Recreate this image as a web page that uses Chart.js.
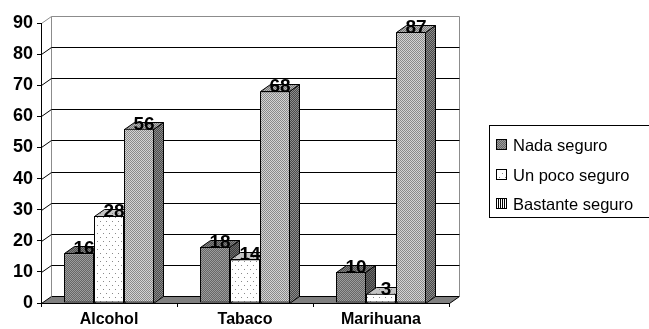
<!DOCTYPE html>
<html>
<head>
<meta charset="utf-8">
<script src="https://cdn.jsdelivr.net/npm/chart.js@4/dist/chart.umd.min.js"></script>
<style>
  html, body { margin: 0; padding: 0; background: #fff; }
  #wrap { width: 649px; height: 329px; position: relative; overflow: hidden; }
</style>
</head>
<body>
<div id="wrap"><canvas id="c" width="649" height="329"></canvas></div>
<script>
// ---- data ----
const categories = ['Alcohol', 'Tabaco', 'Marihuana'];
const seriesNames = ['Nada seguro', 'Un poco seguro', 'Bastante seguro'];
const nadaSeguro = [16, 18, 10];
const unPocoSeguro = [28, 14, 3];
const bastanteSeguro = [56, 68, 87];
const yMin = 0, yMax = 90, yStep = 10;

// ---- fill textures ----
function makePattern(w, h, paint) {
  const c = document.createElement('canvas');
  c.width = w; c.height = h;
  const g = c.getContext('2d');
  paint(g);
  return g.createPattern(c, 'repeat');
}
function checker(a, b) {
  return makePattern(2, 2, g => {
    g.fillStyle = a; g.fillRect(0, 0, 2, 2);
    g.fillStyle = b; g.fillRect(0, 0, 1, 1); g.fillRect(1, 1, 1, 1);
  });
}
function dots(bg, dot) {
  return makePattern(6, 8, g => {
    g.fillStyle = bg; g.fillRect(0, 0, 6, 8);
    g.fillStyle = dot; g.fillRect(1, 1, 1, 1); g.fillRect(4, 5, 1, 1);
  });
}
const stripes = makePattern(2, 2, g => {
  g.fillStyle = '#fff'; g.fillRect(0, 0, 2, 2);
  g.fillStyle = '#000'; g.fillRect(0, 0, 1, 2);
});

// front / side / top faces per series
const faces = [
  { front: checker('#666666', '#9c9c9c'), side: checker('#3c3c3c', '#6a6a6a'), top: checker('#505050', '#808080'), key: checker('#666666', '#9c9c9c') },
  { front: dots('#ffffff', '#8a8a8a'),    side: checker('#8c8c8c', '#b0b0b0'), top: dots('#c4c4c4', '#8a8a8a'),     key: dots('#ffffff', '#8a8a8a') },
  { front: checker('#d4d4d4', '#8a8a8a'), side: checker('#4a4a4a', '#8c8c8c'), top: checker('#7a7a7a', '#b4b4b4'), key: stripes }
];

const DX = 10, DY = -7;   // depth offset of the 3‑D box
const FONT = "'Liberation Sans', Arial, sans-serif";

function poly(ctx, pts, fill) {
  ctx.beginPath();
  ctx.moveTo(pts[0][0], pts[0][1]);
  for (let i = 1; i < pts.length; i++) ctx.lineTo(pts[i][0], pts[i][1]);
  ctx.closePath();
  ctx.fillStyle = fill;
  ctx.fill();
  ctx.stroke();
}

// back wall, side wall, floor and gridlines
const wallPlugin = {
  id: 'wall3d',
  beforeDraw(chart) {
    const { ctx, chartArea: a, scales: { y } } = chart;
    const L = Math.round(a.left) + 0.5, R = Math.round(a.right) + 0.5;
    const yb = Math.round(y.getPixelForValue(y.min)) + 0.5;
    const yt = Math.round(y.getPixelForValue(y.max)) + 0.5;
    ctx.save();
    ctx.lineWidth = 1;
    // floor
    ctx.strokeStyle = '#000';
    poly(ctx, [[L, yb], [R, yb], [R + DX, yb + DY], [L + DX, yb + DY]], '#808080');
    // wall outline
    ctx.strokeStyle = '#8c8c8c';
    ctx.beginPath();
    ctx.moveTo(L + DX, yb + DY); ctx.lineTo(L + DX, yt + DY);
    ctx.lineTo(R + DX, yt + DY); ctx.lineTo(R + DX, yb + DY);
    ctx.moveTo(L, yt); ctx.lineTo(L + DX, yt + DY);
    ctx.stroke();
    // gridlines
    ctx.strokeStyle = '#000';
    ctx.beginPath();
    y.ticks.forEach(t => {
      if (t.value <= y.min || t.value >= y.max) return;
      const py = Math.round(y.getPixelForValue(t.value)) + 0.5;
      ctx.moveTo(L, py); ctx.lineTo(L + DX, py + DY); ctx.lineTo(R + DX, py + DY);
    });
    ctx.stroke();
    ctx.restore();
  },
  beforeDatasetsDraw(chart) {
    const ctx = chart.ctx;
    ctx.save();
    ctx.lineWidth = 1;
    ctx.strokeStyle = '#000';
    chart.data.datasets.forEach((ds, i) => {
      const meta = chart.getDatasetMeta(i);
      meta.data.forEach(bar => {
        const p = bar.getProps(['x', 'y', 'base', 'width'], true);
        const l = Math.round(p.x - p.width / 2) + 0.5, r = Math.round(p.x + p.width / 2) - 0.5;
        const t = Math.round(p.y) + 0.5, b = Math.round(p.base) + 0.5;
        poly(ctx, [[r, t], [r + DX, t + DY], [r + DX, b + DY], [r, b]], faces[i].side);
        poly(ctx, [[l, t], [l + DX, t + DY], [r + DX, t + DY], [r, t]], faces[i].top);
      });
    });
    ctx.restore();
  },
  afterDatasetsDraw(chart) {
    const ctx = chart.ctx;
    ctx.save();
    ctx.font = 'bold 19px ' + FONT;
    ctx.textAlign = 'center';
    ctx.textBaseline = 'alphabetic';
    ctx.fillStyle = '#000';
    chart.data.datasets.forEach((ds, i) => {
      chart.getDatasetMeta(i).data.forEach((bar, j) => {
        const p = bar.getProps(['x', 'y'], true);
        ctx.fillText(String(ds.data[j]), p.x + DX / 2, p.y + 1);
      });
    });
    ctx.restore();
  },
  afterDraw(chart) {
    const ctx = chart.ctx;
    ctx.save();
    ctx.lineWidth = 1;
    ctx.strokeStyle = '#000';
    ctx.fillStyle = '#fff';
    ctx.fillRect(489.5, 125.5, 200, 92);
    ctx.strokeRect(489.5, 125.5, 200, 92);
    const rows = [145, 175, 204];
    ctx.font = '16.5px ' + FONT;
    ctx.textBaseline = 'middle';
    chart.data.datasets.forEach((ds, i) => {
      const cy = rows[i];
      ctx.fillStyle = faces[i].key;
      ctx.fillRect(496.5, cy - 5.5, 10, 10);
      ctx.strokeRect(496.5, cy - 5.5, 10, 10);
      ctx.fillStyle = '#000';
      ctx.fillText(ds.label, 513, cy + 1);
    });
    ctx.restore();
  }
};

const seriesValues = [nadaSeguro, unPocoSeguro, bastanteSeguro];

new Chart(document.getElementById('c'), {
  type: 'bar',
  data: {
    labels: categories,
    datasets: seriesValues.map((vals, i) => ({
      label: seriesNames[i],
      data: vals,
      backgroundColor: faces[i].front,
      borderColor: '#000',
      borderWidth: 1,
      borderSkipped: false,
      categoryPercentage: 0.662,
      barPercentage: 1
    }))
  },
  options: {
    responsive: false,
    animation: false,
    devicePixelRatio: 1,
    layout: { padding: { top: 23, right: 200, left: 0, bottom: 0 } },
    plugins: { legend: { display: false }, tooltip: { enabled: false } },
    scales: {
      x: {
        afterFit(s) { s.height = 26; },
        grid: { drawOnChartArea: false, drawTicks: true, tickLength: 4, color: '#000' },
        border: { display: true, color: '#000' },
        ticks: { color: '#000', padding: 3, font: { family: FONT, size: 16, weight: 'bold' }, maxRotation: 0 }
      },
      y: {
        min: yMin, max: yMax,
        afterFit(s) { s.width = 41; },
        grid: { drawOnChartArea: false, drawTicks: true, tickLength: 4, color: '#000' },
        border: { display: true, color: '#000' },
        ticks: { stepSize: yStep, color: '#000', padding: 4, font: { family: FONT, size: 18, weight: 'bold' } }
      }
    }
  },
  plugins: [wallPlugin]
});
</script>
</body>
</html>
